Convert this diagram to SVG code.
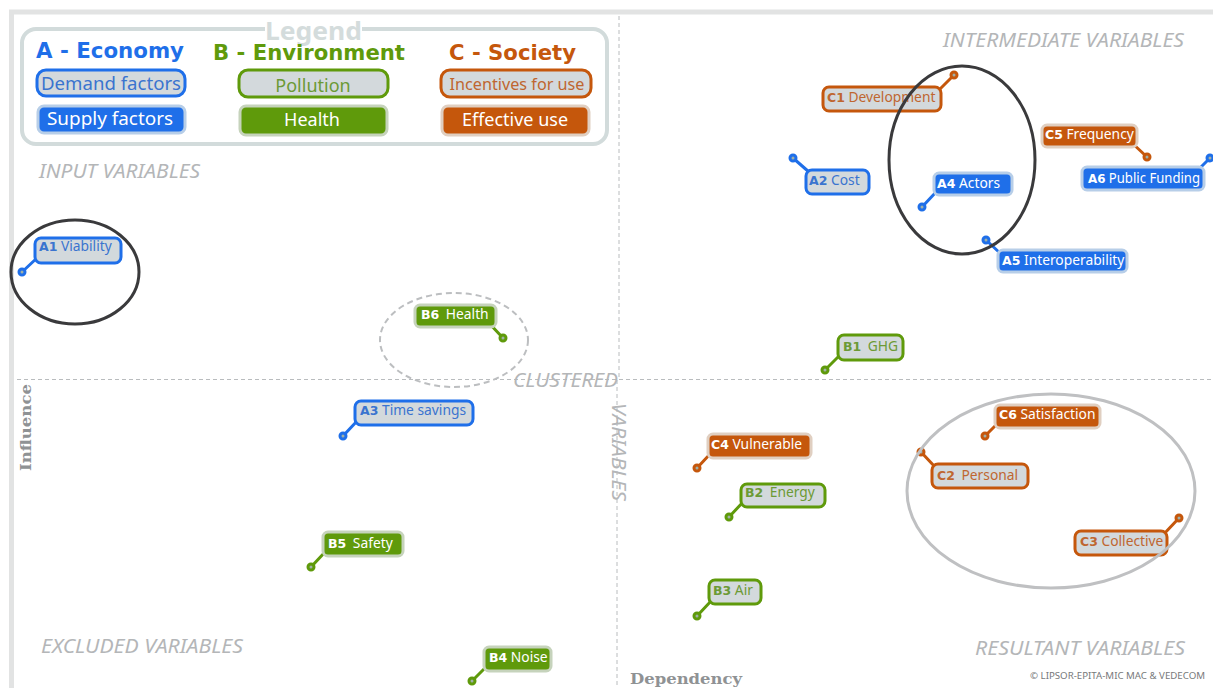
<svg xmlns="http://www.w3.org/2000/svg" width="1213" height="688" viewBox="0 0 1213 688">
<style>
text{font-family:"Noto Sans","DejaVu Sans",sans-serif}
.q{font-size:19px;font-style:italic;fill:#b4b6b8}
.axis{stroke:#b9bcbe;stroke-width:1;stroke-dasharray:4 3;fill:none}
.ax{font-family:"DejaVu Serif",serif;font-weight:700;font-size:15px;fill:#8f9294}
.h{font-family:"DejaVu Sans",sans-serif;font-size:21px;font-weight:700}
.lg{font-size:18px;text-anchor:middle}
.n{font-size:13.800px}
.n .k{font-family:"DejaVu Sans",sans-serif;font-weight:700;font-size:12.500px}
.box{stroke-width:3}
.a{--c:#1f6fe9;--h:#b7cee8;--t:#3a74cf}.b{--c:#5f9a0b;--h:#c6d3bc;--t:#6c9a35}.c{--c:#c5570c;--h:#e0cfc1;--t:#bf6630}
.lead{stroke:var(--c);stroke-width:3;fill:none}
.dot{fill:#9fb0a8;stroke:var(--c);stroke-width:3}
.light .box{fill:#d3d9dc;stroke:var(--c)}
.light text{fill:var(--t)}
.dark .box{fill:var(--c);stroke:var(--h)}
.dark text{fill:#fff}
.ring{fill:none}
</style>
<rect width="1213" height="688" fill="#fff"/>
<path d="M11.500 688V12H1213" fill="none" stroke="#e2e3e3" stroke-width="5"/>
<g id="axes">
<path class="axis" d="M619 16V380M617 380V688M17 379.500H1211"/>
<text class="q" x="513" y="387" textLength="105" lengthAdjust="spacingAndGlyphs">CLUSTERED</text>
<text class="q" transform="translate(612 403) rotate(90)" textLength="98" lengthAdjust="spacingAndGlyphs">VARIABLES</text>
<text class="q" x="39" y="178" textLength="161" lengthAdjust="spacingAndGlyphs">INPUT VARIABLES</text>
<text class="q" x="943" y="47" textLength="241" lengthAdjust="spacingAndGlyphs">INTERMEDIATE VARIABLES</text>
<text class="q" x="41" y="653" textLength="202" lengthAdjust="spacingAndGlyphs">EXCLUDED VARIABLES</text>
<text class="q" x="975" y="655" textLength="210" lengthAdjust="spacingAndGlyphs">RESULTANT VARIABLES</text>
<text class="ax" transform="translate(31 471) rotate(-90)" textLength="87" lengthAdjust="spacingAndGlyphs">Influence</text>
<text class="ax" x="630" y="684" textLength="112" lengthAdjust="spacingAndGlyphs">Dependency</text>
<text x="1030" y="679" font-size="9.500" fill="#77797b" textLength="175" lengthAdjust="spacingAndGlyphs">© LIPSOR-EPITA-MIC MAC &amp; VEDECOM</text>
</g>
<g id="legend">
<rect x="22" y="29" width="585" height="115" rx="14" fill="#fff" stroke="#d2dbdb" stroke-width="4"/>
<rect x="265" y="24" width="97" height="14" fill="#fff"/>
<text x="265" y="40" font-size="25" font-weight="700" fill="#d4dcdc" textLength="97" lengthAdjust="spacingAndGlyphs">Legend</text>
<text class="h" x="36" y="58" fill="#1f6fe9" textLength="148" lengthAdjust="spacingAndGlyphs">A - Economy</text>
<text class="h" x="213" y="60" fill="#5f9a0b" textLength="192" lengthAdjust="spacingAndGlyphs">B - Environment</text>
<text class="h" x="449" y="60" fill="#c5570c" textLength="127" lengthAdjust="spacingAndGlyphs">C - Society</text>
<g class="a light"><rect class="box" x="37" y="70" width="148" height="26" rx="9"/><text class="lg" x="111" y="90" textLength="140" lengthAdjust="spacingAndGlyphs">Demand factors</text></g>
<g class="a dark"><rect class="box" x="38" y="106" width="147" height="27" rx="6"/><text class="lg" x="110" y="125" textLength="126" lengthAdjust="spacingAndGlyphs">Supply factors</text></g>
<g class="b light"><rect class="box" x="239" y="70" width="149" height="27" rx="9"/><text class="lg" x="313" y="92">Pollution</text></g>
<g class="b dark"><rect class="box" x="240" y="106" width="147" height="29" rx="6"/><text class="lg" x="312" y="126">Health</text></g>
<g class="c light"><rect class="box" x="441" y="70" width="150" height="27" rx="9"/><text class="lg" x="517" y="90" style="font-size:16px" textLength="135" lengthAdjust="spacingAndGlyphs">Incentives for use</text></g>
<g class="c dark"><rect class="box" x="442" y="106" width="147" height="29" rx="6"/><text class="lg" x="515" y="126">Effective use</text></g>
</g>
<g id="connectors">
<path class="lead a" d="M22 272L37 258M793 158L809 172M343 436L358 420M922 207L937 191M986 240L1001 254M1210 158L1198 170"/>
<path class="lead b" d="M825 370L841 354M729 517L744 501M697 616L712 600M472 681L487 666M311 567L326 551M503 338L488 322"/>
<path class="lead c" d="M954 75L937 92M921 452L936 468M1179 518L1163 535M697 468L711 453M1147 157L1131 142M985 436L999 422"/>
</g>
<g id="A1" class="a light"><circle class="dot" cx="22" cy="272" r="3"/><rect class="box" x="35" y="238" width="86" height="25" rx="6"/><text class="n" x="39" y="251"><tspan class="k">A1</tspan> Viability</text></g>
<g id="A2" class="a light"><circle class="dot" cx="793" cy="158" r="3"/><rect class="box" x="806" y="170" width="63" height="24" rx="6"/><text class="n" x="809" y="185"><tspan class="k">A2</tspan> Cost</text></g>
<g id="A3" class="a light"><circle class="dot" cx="343" cy="436" r="3"/><rect class="box" x="355" y="401" width="118" height="24" rx="6"/><text class="n" x="360" y="415"><tspan class="k">A3</tspan> Time savings</text></g>
<g id="A4" class="a dark"><circle class="dot" cx="922" cy="207" r="3"/><rect class="box" x="934" y="173" width="78" height="22" rx="5"/><text class="n" x="937" y="188"><tspan class="k">A4</tspan> Actors</text></g>
<g id="A5" class="a dark"><circle class="dot" cx="986" cy="240" r="3"/><rect class="box" x="998" y="250" width="129" height="22" rx="5"/><text class="n" x="1002" y="265"><tspan class="k">A5</tspan> Interoperability</text></g>
<g id="A6" class="a dark"><circle class="dot" cx="1210" cy="158" r="3"/><rect class="box" x="1082" y="167" width="122" height="23" rx="5"/><text class="n" x="1088" y="183" textLength="112" lengthAdjust="spacingAndGlyphs"><tspan class="k">A6</tspan> Public Funding</text></g>
<g id="B1" class="b light"><circle class="dot" cx="825" cy="370" r="3"/><rect class="box" x="838" y="335" width="65" height="25" rx="6"/><text class="n" x="843" y="351"><tspan class="k">B1</tspan> <tspan dx="3">GHG</tspan></text></g>
<g id="B2" class="b light"><circle class="dot" cx="729" cy="517" r="3"/><rect class="box" x="741" y="484" width="84" height="23" rx="6"/><text class="n" x="745" y="497"><tspan class="k">B2</tspan> <tspan dx="3">Energy</tspan></text></g>
<g id="B3" class="b light"><circle class="dot" cx="697" cy="616" r="3"/><rect class="box" x="709" y="580" width="52" height="24" rx="6"/><text class="n" x="713" y="595"><tspan class="k">B3</tspan> Air</text></g>
<g id="B4" class="b dark"><circle class="dot" cx="472" cy="681" r="3"/><rect class="box" x="484" y="647" width="67" height="24" rx="5"/><text class="n" x="489" y="662"><tspan class="k">B4</tspan> Noise</text></g>
<g id="B5" class="b dark"><circle class="dot" cx="311" cy="567" r="3"/><rect class="box" x="323" y="532" width="80" height="24" rx="5"/><text class="n" x="328" y="548"><tspan class="k">B5</tspan> <tspan dx="3">Safety</tspan></text></g>
<g id="B6" class="b dark"><circle class="dot" cx="503" cy="338" r="3"/><rect class="box" x="415" y="305" width="81" height="22" rx="5"/><text class="n" x="421" y="319"><tspan class="k">B6</tspan> <tspan dx="3">Health</tspan></text></g>
<g id="C1" class="c light"><circle class="dot" cx="954" cy="75" r="3"/><rect class="box" x="823" y="87" width="118" height="24" rx="6"/><text class="n" x="827" y="102"><tspan class="k">C1</tspan> Development</text></g>
<g id="C2" class="c light"><circle class="dot" cx="921" cy="452" r="3"/><rect class="box" x="932" y="464" width="96" height="24" rx="6"/><text class="n" x="937" y="480"><tspan class="k">C2</tspan> <tspan dx="3">Personal</tspan></text></g>
<g id="C3" class="c light"><circle class="dot" cx="1179" cy="518" r="3"/><rect class="box" x="1075" y="531" width="92" height="24" rx="6"/><text class="n" x="1080" y="546"><tspan class="k">C3</tspan> Collective</text></g>
<g id="C4" class="c dark"><circle class="dot" cx="697" cy="468" r="3"/><rect class="box" x="708" y="434" width="103" height="24" rx="5"/><text class="n" x="711" y="449"><tspan class="k">C4</tspan> Vulnerable</text></g>
<g id="C5" class="c dark"><circle class="dot" cx="1147" cy="157" r="3"/><rect class="box" x="1042" y="125" width="95" height="22" rx="5"/><text class="n" x="1045" y="139"><tspan class="k">C5</tspan> Frequency</text></g>
<g id="C6" class="c dark"><circle class="dot" cx="985" cy="436" r="3"/><rect class="box" x="995" y="405" width="105" height="23" rx="5"/><text class="n" x="999" y="419"><tspan class="k">C6</tspan> Satisfaction</text></g>
<g id="rings">
<ellipse class="ring" cx="75" cy="272" rx="64" ry="52" stroke="#3a3a3c" stroke-width="3"/>
<ellipse class="ring" cx="962" cy="160" rx="73" ry="94" stroke="#3a3a3c" stroke-width="3"/>
<ellipse class="ring" cx="454" cy="340" rx="74" ry="47" stroke="#bcbec0" stroke-width="2" stroke-dasharray="6 4"/>
<ellipse class="ring" cx="1051" cy="491" rx="144" ry="97" stroke="#bfc0c2" stroke-width="3"/>
</g>
</svg>
